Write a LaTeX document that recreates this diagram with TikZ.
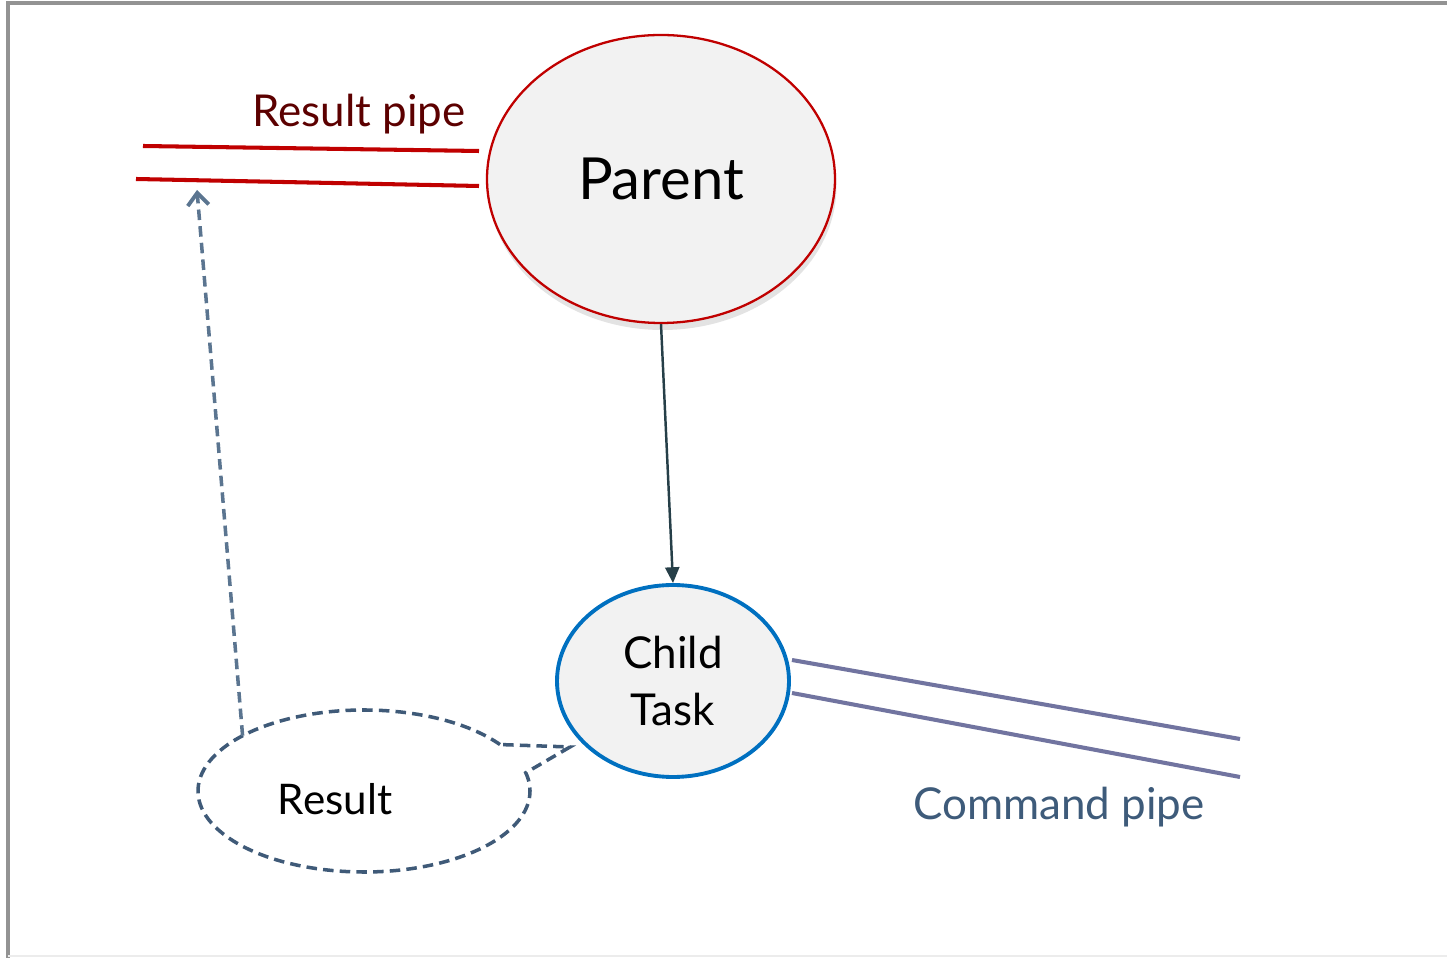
\documentclass[tikz,border=0pt]{standalone}
\usepackage{fontspec}
\setmainfont{Lato}
\usetikzlibrary{arrows.meta,shadows,shapes.geometric,calc}
\definecolor{pipered}{HTML}{C00000}
\definecolor{piperedtext}{HTML}{5C0000}
\definecolor{childblue}{HTML}{0070C0}
\definecolor{cmdline}{HTML}{7174A0}
\definecolor{cmdtext}{HTML}{3E5B7A}
\definecolor{calloutline}{HTML}{3F5A78}
\definecolor{resarrow}{HTML}{5B7590}
\definecolor{slate}{HTML}{263F48}
\tikzset{proc/.style = {ellipse, fill=black!5, inner sep=0pt},
         pipe/.style = {line width=2.3pt},
         dashline/.style = {dash pattern=on 6pt off 3.5pt, line width=2pt}}

\begin{document}
\begin{tikzpicture}
\useasboundingbox (0,0) rectangle (28.94,19.16);
\draw [gray!85, line width=2.2pt] (0.16,0) -- (0.16,19.1) -- (28.94,19.1);
\draw [gray!15, line width=0.8pt] (0.16,0.04) -- (28.94,0.04);
\node [proc, draw=pipered, line width=1.3pt, minimum width=6.96cm, minimum height=5.76cm,
       font=\fontsize{33}{40}\selectfont,
       drop shadow={shadow xshift=0.03cm, shadow yshift=-0.14cm, opacity=0.22}]
      (parent) at (13.22,15.58) {Parent};
\node [proc, draw=childblue, line width=2.2pt, minimum width=4.64cm, minimum height=3.84cm,
       align=center, font=\fontsize{25}{32}\selectfont] (child) at (13.46,5.54) {Child\\Task};
\draw [slate, line width=1.4pt, -{Triangle[length=9pt, width=8pt]}] (parent.south) -- (child.north);
% result pipe
\coordinate (rp1) at (9.58,16.14);
\coordinate (rp2) at (9.58,15.44);
\draw [pipe, pipered] (2.86,16.24) -- (rp1);
\draw [pipe, pipered] (2.72,15.58) -- (rp2);
\node [piperedtext, font=\fontsize{25}{30}\selectfont] (rptext) at (7.18,16.88) {Result pipe};
% command pipe
\coordinate (cp1) at (15.84,5.96);
\coordinate (cp2) at (15.84,5.30);
\draw [pipe, cmdline] (cp1) -- (24.8,4.38);
\draw [pipe, cmdline] (cp2) -- (24.8,3.62);
\node [cmdtext, font=\fontsize{25}{30}\selectfont] (cptext) at (21.18,3.02) {Command pipe};
% result callout
\node [font=\fontsize{24}{30}\selectfont] (result) at (6.70,3.18) {Result};
\coordinate (tip) at (11.40,4.22);
\draw [dashline, calloutline] (7.28,3.34) ++(35:3.32 and 1.62)
      arc [start angle=35, end angle=373, x radius=3.32, y radius=1.62] -- (tip) -- cycle;
\coordinate (resfrom) at ($(7.28,3.34)+(137:3.32 and 1.62)$);
\coordinate (resto) at (3.94,15.36);
\draw [dashline, resarrow, -{Straight Barb[length=7pt, width=12pt, line width=2.2pt]}] (resfrom) -- (resto);
\end{tikzpicture}
\end{document}
